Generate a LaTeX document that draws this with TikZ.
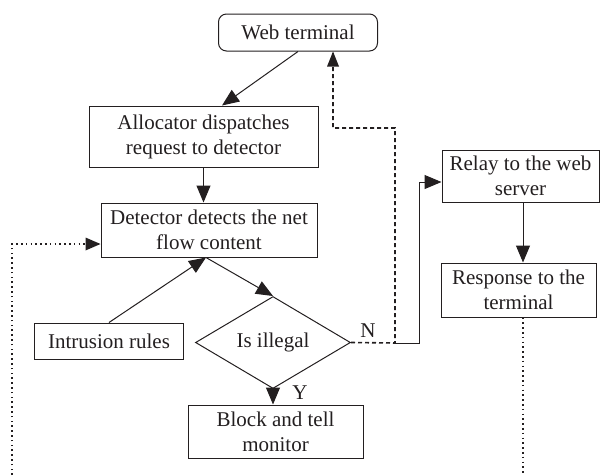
\documentclass[tikz,border=0pt]{standalone}
\usepackage{fontspec}
\setmainfont{Liberation Serif}
\usetikzlibrary{shapes.geometric,arrows.meta}
\definecolor{ink}{HTML}{231F20}
\begin{document}
\begin{tikzpicture}[x=1pt,y=-1pt,
  every node/.style={font=\fontsize{21}{25}\selectfont, text=ink},
  box/.style={draw=ink, line width=1pt, rectangle, align=center, inner sep=0pt},
  rbox/.style={box, rounded corners=8pt},
  dec/.style={draw=ink, line width=1pt, diamond, inner sep=0pt, align=center},
  con/.style={draw=ink, line width=1pt},
  arr/.style={con, -{Triangle[length=17pt,width=14pt]}},
  dsh/.style={draw=ink, line width=1.6pt, dash pattern=on 4pt off 3pt},
  dot/.style={draw=ink, line width=1.8pt, dash pattern=on 1.6pt off 3.2pt},
  lbl/.style={inner sep=0pt}
]
\useasboundingbox (0,0) rectangle (600,475);

\node[rbox, minimum width=159pt, minimum height=37pt] (web) at (298,32.5) {Web terminal};
\node[box, minimum width=229pt, minimum height=61pt] (alloc) at (203.5,136.5) {Allocator dispatches\\request to detector};
\node[box, minimum width=216pt, minimum height=54pt] (det) at (209,230) {Detector detects the net\\flow content};
\node[box, minimum width=149pt, minimum height=36pt] (intr) at (109,341) {Intrusion rules};
\node[dec, minimum width=155pt, minimum height=69pt] (dia) at (273,342.5) {Is illegal};
\node[box, minimum width=175pt, minimum height=53pt] (block) at (275.5,431.5) {Block and tell\\monitor};
\node[box, minimum width=157pt, minimum height=52pt] (relay) at (520.5,176) {Relay to the web\\server};
\node[box, minimum width=155pt, minimum height=54pt] (resp) at (518.5,290) {Response to the\\terminal};

\node[lbl] (ylbl) at (300,393) {Y};
\node[lbl] (nlbl) at (368,331) {N};

\coordinate (dbot) at ([xshift=-3pt]det.south);
\coordinate (nx) at (395,343);
\coordinate (ntop) at (395,128);
\coordinate (lbot) at (12,475);
\coordinate (rbot) at (523,475);

% solid connectors
\draw[arr] (web.south) -- ([xshift=18.5pt]alloc.north);
\draw[arr] (alloc.south) -- (alloc.south |- det.north);
\draw[arr] (intr.north) -- (dbot);
\draw[arr] (dbot) -- (dia.north);
\draw[arr] (dia.south) -- (dia.south |- block.north);
\draw[arr] (nx) -- (419,343) |- ([yshift=-6pt]relay.west);
\draw[arr] ([xshift=2.5pt]relay.south) -- ([xshift=4.5pt]resp.north);

% dashed feedback
\draw[dsh] (dia.east) -- (nx) -- (ntop) -| ([xshift=35pt]web.south);
\draw[draw=none, fill=ink] ([xshift=35pt]web.south) -- ++(-6,15) -- ++(12,0) -- cycle;

% dotted lines
\draw[dot] (lbot) |- ([xshift=-12pt,yshift=-14pt]det.west);
\draw[draw=none, fill=ink] ([yshift=-14pt]det.west) -- ++(-15,-6.5) -- ++(0,13) -- cycle;
\draw[dot] ([xshift=4.5pt]resp.south) -- (rbot);
\end{tikzpicture}
\end{document}
